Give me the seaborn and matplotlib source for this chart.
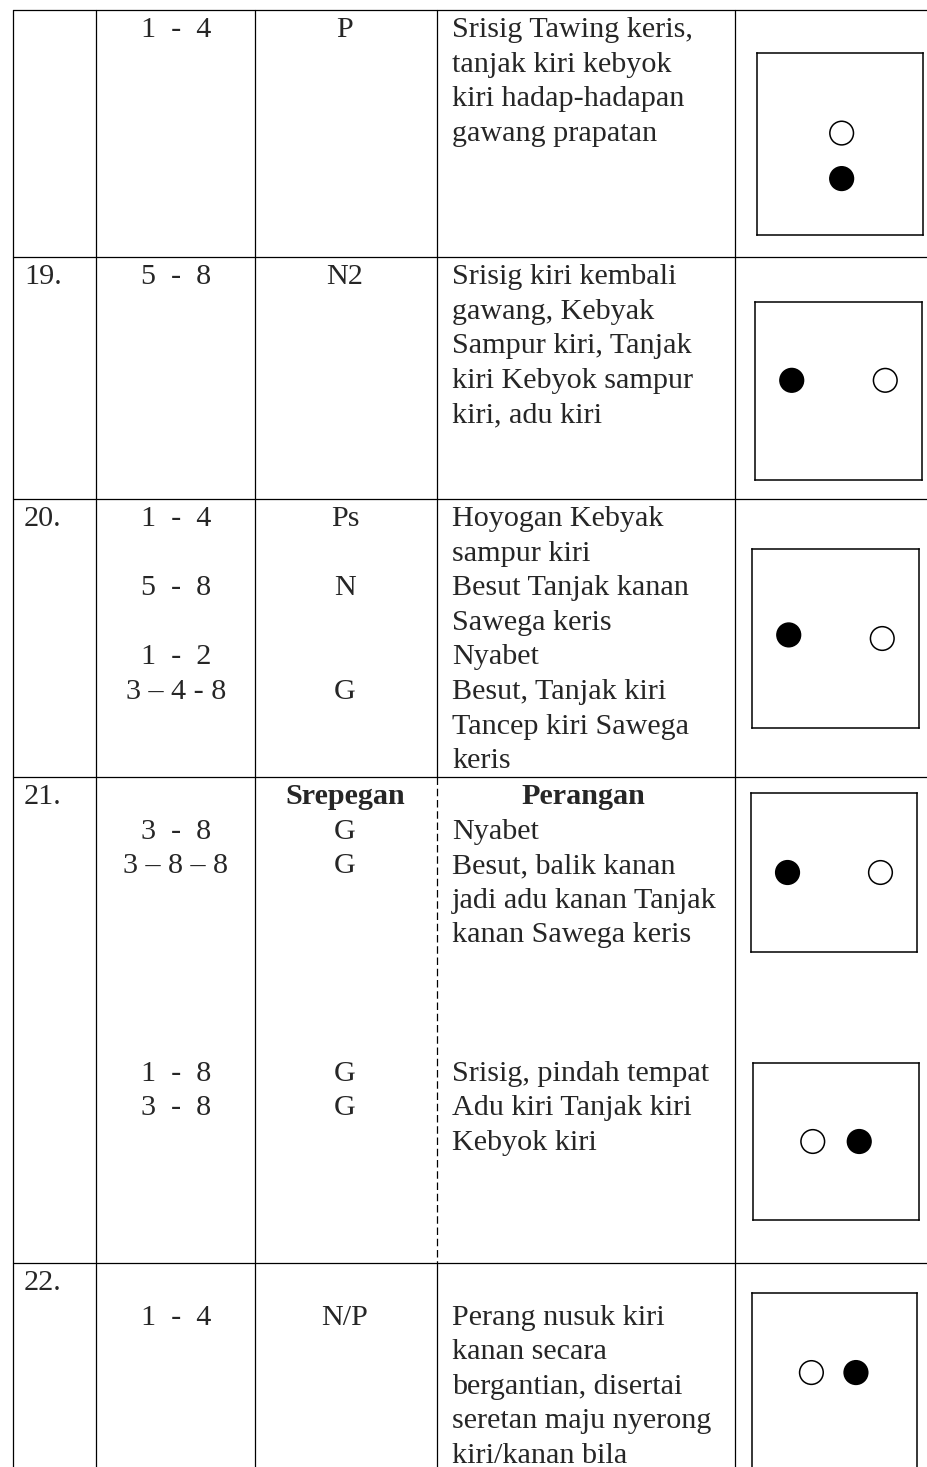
'''
Recreates a scanned dance-notation table: rows of counts, codes,
movement descriptions and a small floor diagram with dancer positions.
'''
import pandas as pd
import matplotlib
matplotlib.use('Agg')
import matplotlib.pyplot as plt
import seaborn as sns

# --- table content -------------------------------------------------------
row_labels = ['', '19.', '20.', '21.', '22.']

# description column, one list of (line index, text) per row
desc_18 = [(0, 'Srisig Tawing keris,'), (1, 'tanjak kiri kebyok'),
           (2, 'kiri hadap-hadapan'), (3, 'gawang prapatan')]
desc_19 = [(0, 'Srisig kiri kembali'), (1, 'gawang, Kebyak'),
           (2, 'Sampur kiri, Tanjak'), (3, 'kiri Kebyok sampur'),
           (4, 'kiri, adu kiri')]
desc_20 = [(0, 'Hoyogan Kebyak'), (1, 'sampur kiri'),
           (2, 'Besut Tanjak kanan'), (3, 'Sawega keris'), (4, 'Nyabet'),
           (5, 'Besut, Tanjak kiri'), (6, 'Tancep kiri Sawega'),
           (7, 'keris')]
desc_21 = [(1, 'Nyabet'), (2, 'Besut, balik kanan'),
           (3, 'jadi adu kanan Tanjak'), (4, 'kanan Sawega keris'),
           (8, 'Srisig, pindah tempat'), (9, 'Adu kiri Tanjak kiri'),
           (10, 'Kebyok kiri')]
desc_22 = [(1, 'Perang nusuk kiri'), (2, 'kanan secara'),
           (3, 'bergantian, disertai'), (4, 'seretan maju nyerong'),
           (5, 'kiri/kanan bila')]
descriptions = [desc_18, desc_19, desc_20, desc_21, desc_22]

# count column
counts_18 = [(0, '1  -  4')]
counts_19 = [(0, '5  -  8')]
counts_20 = [(0, '1  -  4'), (2, '5  -  8'), (4, '1  -  2'),
             (5, '3 \u2013 4 - 8')]
counts_21 = [(1, '3  -  8'), (2, '3 \u2013 8 \u2013 8'), (8, '1  -  8'),
             (9, '3  -  8')]
counts_22 = [(1, '1  -  4')]
counts = [counts_18, counts_19, counts_20, counts_21, counts_22]

# code column
codes_18 = [(0, 'P')]
codes_19 = [(0, 'N2')]
codes_20 = [(0, 'Ps'), (2, 'N'), (5, 'G')]
codes_21 = [(1, 'G'), (2, 'G'), (8, 'G'), (9, 'G')]
codes_22 = [(1, 'N/P')]
codes = [codes_18, codes_19, codes_20, codes_21, codes_22]

# bold sub-headings in row 21
heading_code = 'Srepegan'
heading_desc = 'Perangan'

# dancer positions inside each floor diagram (fraction of box, y from top)
diagram_ids = ['18', '18', '19', '19', '20', '20', '21a', '21a',
               '21b', '21b', '22', '22']
dancer_x = [0.51, 0.51, 0.22, 0.78, 0.22, 0.78, 0.22, 0.78,
            0.36, 0.64, 0.36, 0.63]
dancer_y = [0.44, 0.69, 0.44, 0.44, 0.48, 0.50, 0.50, 0.50,
            0.50, 0.50, 0.43, 0.43]
dancer_kind = ['open', 'filled', 'filled', 'open', 'filled', 'open',
               'filled', 'open', 'open', 'filled', 'open', 'filled']

# --- layout (pixels) -----------------------------------------------------
W, H = 927, 1467
ROW_TOPS = [10, 257, 499, 777, 1263]
COL_X = [13, 96, 255, 437, 735]
FIRST_BASE = 27
LINE_H = 34.6
# diagram boxes: left, top, right, bottom
BOXES = {'18': (757, 53, 923, 235), '19': (755, 302, 922, 480),
         '20': (752, 549, 919, 728), '21a': (751, 793, 917, 952),
         '21b': (753, 1063, 919, 1220), '22': (752, 1293, 917, 1478)}

sns.set_theme(style='white')
plt.rcParams['font.family'] = ['Liberation Serif', 'DejaVu Serif']
FS = 21.7

fig = plt.figure(figsize=(W / 100, H / 100), dpi=100)
ax = fig.add_axes([0, 0, 1, 1])
ax.set_xlim(0, W)
ax.set_ylim(H, 0)
ax.axis('off')

# grid lines
lw = 0.9
for y in ROW_TOPS:
    ax.plot([COL_X[0], W], [y, y], color='black', lw=lw)
for x in COL_X:
    if x == 437:
        ax.plot([x, x], [ROW_TOPS[0], ROW_TOPS[3]], color='black', lw=lw)
        ax.plot([x, x], [ROW_TOPS[3], ROW_TOPS[4]], color='black', lw=lw,
                ls=(0, (6, 3)))
        ax.plot([x, x], [ROW_TOPS[4], H], color='black', lw=lw)
    else:
        ax.plot([x, x], [ROW_TOPS[0], H], color='black', lw=lw)


def baseline(row, line):
    return ROW_TOPS[row] + FIRST_BASE + line * LINE_H


for r, label in enumerate(row_labels):
    if label:
        ax.text(24, baseline(r, 0), label, fontsize=FS, va='baseline',
                ha='left')
    for line, txt in counts[r]:
        ax.text(176, baseline(r, line), txt, fontsize=FS, va='baseline',
                ha='center')
    for line, txt in codes[r]:
        ax.text(345, baseline(r, line), txt, fontsize=FS, va='baseline',
                ha='center')
    for line, txt in descriptions[r]:
        ax.text(452, baseline(r, line), txt, fontsize=FS, va='baseline',
                ha='left')

ax.text(345, baseline(3, 0), heading_code, fontsize=FS, va='baseline',
        ha='center', fontweight='bold')
ax.text(583, baseline(3, 0), heading_desc, fontsize=FS, va='baseline',
        ha='center', fontweight='bold')

# floor diagrams
dancers = pd.DataFrame({'box': diagram_ids, 'x': dancer_x, 'y': dancer_y,
                        'kind': dancer_kind})
for box_id, (l, t, r, b) in BOXES.items():
    bax = fig.add_axes([l / W, 1 - b / H, (r - l) / W, (b - t) / H])
    sub = dancers[dancers['box'] == box_id]
    sns.scatterplot(data=sub, x='x', y='y', hue='kind',
                    palette={'filled': 'black', 'open': 'white'},
                    edgecolor='black', linewidth=1.1, s=290, legend=False,
                    ax=bax)
    bax.set_xlim(0, 1)
    bax.set_ylim(1, 0)
    bax.set_xticks([])
    bax.set_yticks([])
    bax.set_xlabel('')
    bax.set_ylabel('')
    bax.set_facecolor('white')
    for s in bax.spines.values():
        s.set_visible(True)
        s.set_color('black')
        s.set_linewidth(1.1)

fig.savefig('out.png', dpi=100, facecolor='white')
